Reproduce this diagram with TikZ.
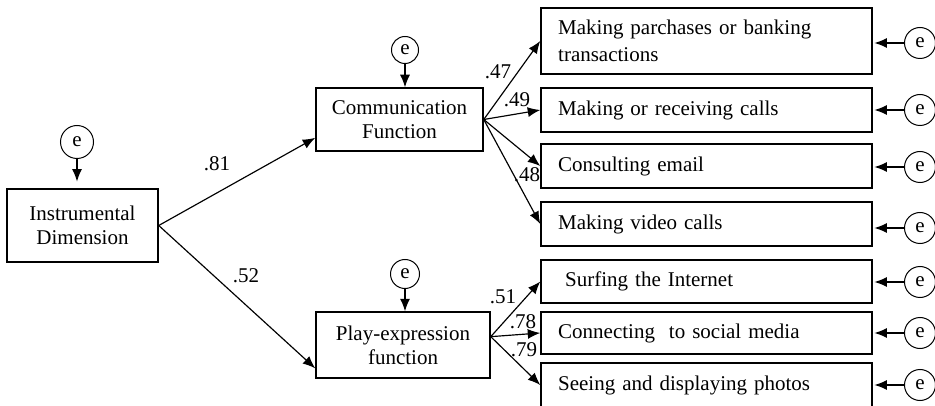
\documentclass[tikz,border=0pt]{standalone}
\usepackage{fontspec}
\setmainfont{Liberation Serif}
\usetikzlibrary{positioning}
\usetikzlibrary{arrows.meta}
\newcommand{\px}{0.6pt}
\tikzset{
  latent-box/.style={draw, line width=0.9pt, align=center, inner sep=0pt,
    font=\fontsize{12.6}{14.5}\selectfont},
  item-box/.style={draw, line width=0.9pt, minimum width=331*\px, inner xsep=10pt,
    text width=178pt, align=left, font=\fontsize{12.6}{16}\selectfont},
  error-circle/.style={draw, circle, line width=0.6pt, inner sep=0pt,
    minimum size=#1*\px, font=\fontsize{12.6}{13}\selectfont},
  path-arrow/.style={line width=0.7pt, -{Latex[length=7.5pt,width=6pt]}},
  loading/.style={inner sep=0pt, font=\fontsize{12.6}{13}\selectfont},
}
\begin{document}
\begin{tikzpicture}[x=\px, y=-\px]
\useasboundingbox (0,0) rectangle (935,406);
% latent variables
\node[latent-box, minimum width=151*\px, minimum height=73*\px] (instr) at (82.5,225.5) {Instrumental\\Dimension};
\node[latent-box, minimum width=167*\px, minimum height=63*\px] (comm) at (399.5,119.5) {Communication\\Function};
\node[latent-box, minimum width=174*\px, minimum height=66*\px] (play) at (403,345) {Play-expression\\function};
% disturbances
\node[error-circle=33] (e-instr) at (77,142) {e};
\node[error-circle=27] (e-comm) at (405,50) {e};
\node[error-circle=29] (e-play) at (405,274) {e};
\draw[path-arrow, shorten >=4pt] (e-instr.south) -- (e-instr.south |- instr.north);
\draw[path-arrow] (e-comm.south) -- (e-comm.south |- comm.north);
\draw[path-arrow] (e-play.south) -- (e-play.south |- play.north);
% observed items with their errors
\foreach \name/\ypos/\ey/\h/\txt in {
  parch/41/43/66/{Making parchases or banking\\transactions},
  calls/110/110/44/{Making or receiving calls},
  email/166/167/44/{Consulting email},
  video/224/228/44/{Making video calls},
  surf/281.5/282/43/{\ Surfing the Internet},
  social/333/333/42/{Connecting\ \ to social media},
  photos/385/385/44/{Seeing and displaying photos}} {
  \node[item-box, minimum height=\h*\px] (\name) at (706.5,\ypos) {\txt};
  \node[error-circle=31] (e-\name) at (920,\ey) {e};
  \draw[path-arrow, shorten >=1pt] (e-\name.west) -- (\name.east |- e-\name.west);
}
% structural paths
\draw[path-arrow] (instr.east) -- ([yshift=-11pt]comm.west);
\draw[path-arrow] (instr.east) -- ([yshift=-14pt]play.west);
\node[loading] (l-81) at (217,164) {.81};
\node[loading] (l-52) at (246,276) {.52};
% measurement paths
\foreach \item in {parch,calls,email,video}
  \draw[path-arrow] (comm.east) -- (\item.west);
\foreach \item in {surf,social,photos}
  \draw[path-arrow] ([yshift=5pt]play.east) -- (\item.west);
\node[loading] (l-47) at (498,72) {.47};
\node[loading] (l-49) at (517,100) {.49};
\node[loading] (l-48) at (527,175) {.48};
\node[loading] (l-51) at (503,297) {.51};
\node[loading] (l-78) at (523,322) {.78};
\node[loading] (l-79) at (524,350) {.79};
\end{tikzpicture}
\end{document}
